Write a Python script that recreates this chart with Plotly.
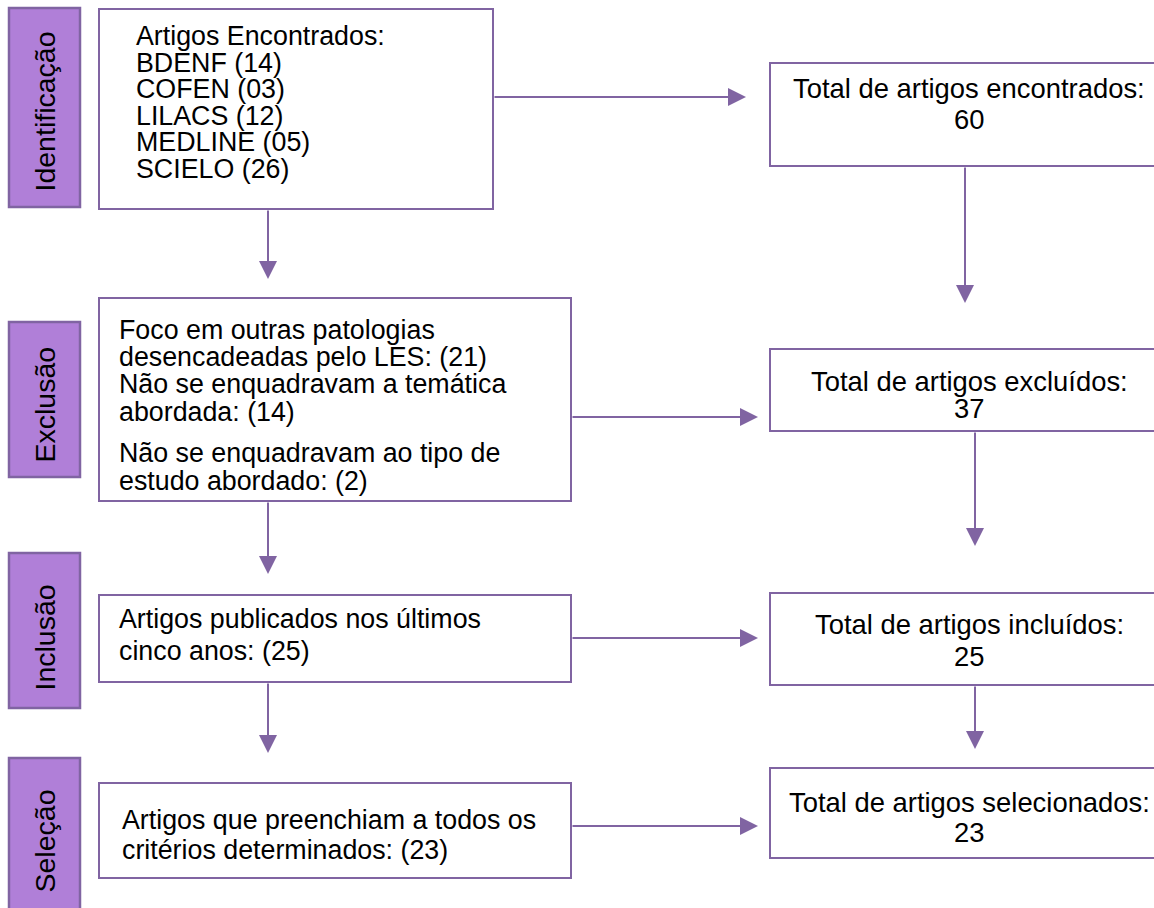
import plotly.graph_objects as go

# ---------------- data ----------------
stages = ["Identificação", "Exclusão", "Inclusão", "Seleção"]
databases = ["BDENF", "COFEN", "LILACS", "MEDLINE", "SCIELO"]
db_counts = ["14", "03", "12", "05", "26"]
exclusion_reasons = [
    ["Foco em outras patologias", "desencadeadas pelo LES:"],
    ["Não se enquadravam a temática", "abordada:"],
    ["Não se enquadravam ao tipo de", "estudo abordado:"],
]
exclusion_counts = [21, 14, 2]
inclusion_lines = ["Artigos publicados nos últimos", "cinco anos:"]
inclusion_count = 25
selection_lines = ["Artigos que preenchiam a todos os", "critérios determinados:"]
selection_count = 23
total_labels = ["Total de artigos encontrados:", "Total de artigos excluídos:",
                "Total de artigos incluídos:", "Total de artigos selecionados:"]
total_counts = [60, 37, 25, 23]

# ---------------- style / geometry ----------------
W, H = 1154, 908
LINE = "#8064A2"
FILL = "#B07FD8"
FAM = "Liberation Sans, Arial, sans-serif"
FONT = dict(family=FAM, size=26.8, color="black")
FONT_R = dict(family=FAM, size=27.4, color="black")
FONT_L = dict(family=FAM, size=28.5, color="black")

label_boxes = [(9, 80, 8, 207), (9, 80, 322, 477), (9, 80, 553, 708), (9, 80, 758, 920)]
label_text_y = [112, 405, 638, 841]
left_boxes = [(99, 493, 9, 209), (99, 571, 298, 501), (99, 571, 595, 682), (99, 571, 783, 878)]
right_boxes = [(770, 1170, 63, 166), (770, 1170, 349, 431), (770, 1170, 593, 685), (770, 1170, 768, 858)]
right_text_x = 969
right_text_y = [(88, 119), (381, 408), (624, 656), (802, 832)]

arrows = [
    ((493, 97), (746, 97)), ((268, 209), (268, 279)), ((965, 166), (965, 303)),
    ((571, 417), (758, 417)), ((268, 501), (268, 574)), ((975, 431), (975, 546)),
    ((571, 638), (758, 638)), ((268, 682), (268, 753)), ((975, 685), (975, 749)),
    ((571, 826), (758, 826)),
]

fig = go.Figure()
fig.add_trace(go.Scatter(x=[0, W], y=[0, H], mode="markers", marker=dict(opacity=0),
                         hoverinfo="skip", showlegend=False))

shapes = []
annotations = []

for (x0, x1, y0, y1), name, ty in zip(label_boxes, stages, label_text_y):
    shapes.append(dict(type="rect", x0=x0, x1=x1, y0=y0, y1=y1, xref="x", yref="y",
                       fillcolor=FILL, line=dict(color=LINE, width=2.5)))
    annotations.append(dict(x=(x0 + x1) / 2, y=ty, xref="x", yref="y", text=name,
                            textangle=-90, showarrow=False, font=FONT_L,
                            xanchor="center", yanchor="middle"))

for (x0, x1, y0, y1) in left_boxes + right_boxes:
    shapes.append(dict(type="rect", x0=x0, x1=x1, y0=y0, y1=y1, xref="x", yref="y",
                       fillcolor="white", line=dict(color=LINE, width=2)))


def add_line(x, y, text, anchor="left", font=FONT):
    annotations.append(dict(x=x, y=y, xref="x", yref="y", text=text, showarrow=False,
                            font=font, xanchor=anchor, yanchor="middle"))


# box 1
box1_lines = ["Artigos Encontrados:"] + [f"{d} ({c})" for d, c in zip(databases, db_counts)]
for i, t in enumerate(box1_lines):
    add_line(134, 36 + 26.6 * i, t)

# box 2
box2_lines = []
for reason, c in zip(exclusion_reasons, exclusion_counts):
    box2_lines += [reason[0], f"{reason[1]} ({c})"]
for t, y in zip(box2_lines, [330, 357, 384, 412, 453, 481]):
    add_line(117, y, t)

# box 3
box3_lines = [inclusion_lines[0], f"{inclusion_lines[1]} ({inclusion_count})"]
for t, y in zip(box3_lines, [619, 651]):
    add_line(117, y, t)

# box 4
box4_lines = [selection_lines[0], f"{selection_lines[1]} ({selection_count})"]
for t, y in zip(box4_lines, [820, 850]):
    add_line(120, y, t)

# right boxes
for lab, cnt, (ya, yb) in zip(total_labels, total_counts, right_text_y):
    add_line(right_text_x, ya, lab, "center", FONT_R)
    add_line(right_text_x, yb, str(cnt), "center", FONT_R)

for (tail, tip) in arrows:
    annotations.append(dict(x=tip[0], y=tip[1], ax=tail[0], ay=tail[1], xref="x", yref="y",
                            axref="x", ayref="y", text="", showarrow=True, arrowhead=2,
                            arrowsize=1.8, arrowwidth=2, arrowcolor=LINE, standoff=0))

fig.update_layout(
    width=W, height=H, margin=dict(l=0, r=0, t=0, b=0),
    paper_bgcolor="white", plot_bgcolor="white",
    xaxis=dict(range=[0, W], visible=False, fixedrange=True),
    yaxis=dict(range=[H, 0], visible=False, fixedrange=True),
    shapes=shapes, annotations=annotations, showlegend=False,
)

fig.write_html("out.html", config={"displayModeBar": False},
               post_script="document.body.style.margin='0';document.body.style.overflow='hidden';")
